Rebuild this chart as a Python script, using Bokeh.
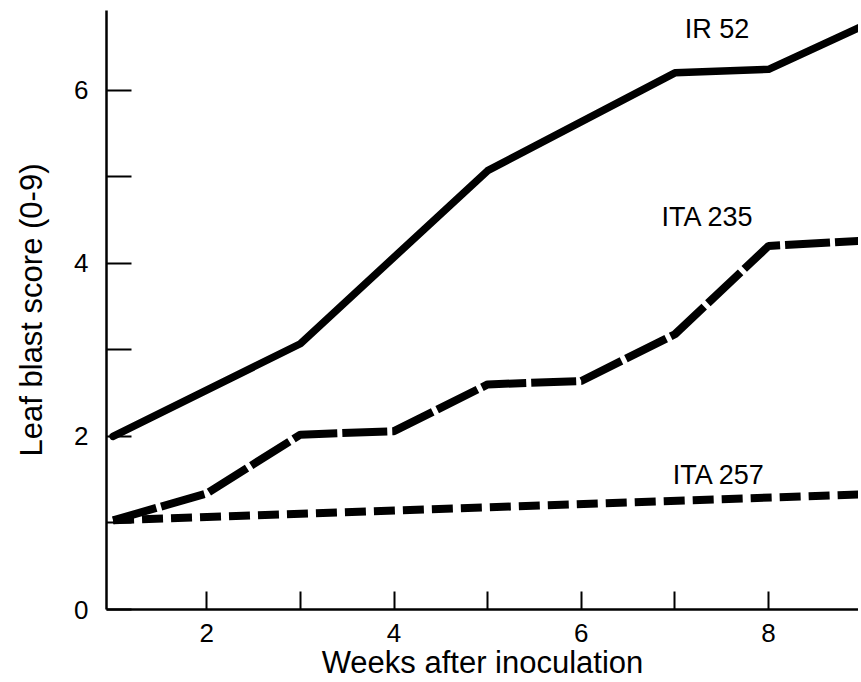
from bokeh.plotting import figure
from bokeh.models import FixedTicker, Label
from bokeh.embed import file_html
from bokeh.resources import INLINE

weeks_ir52 = [1, 3, 5, 7, 8, 9]
score_ir52 = [2.0, 3.07, 5.07, 6.2, 6.24, 6.74]

weeks_ita235 = [1, 2, 3, 4, 5, 6, 7, 8, 9]
score_ita235 = [1.03, 1.34, 2.02, 2.06, 2.6, 2.64, 3.18, 4.2, 4.26]

weeks_ita257 = [1, 9]
score_ita257 = [1.03, 1.33]

series_labels = ["IR 52", "ITA 235", "ITA 257"]
label_x = [7.45, 7.35, 7.47]
label_y = [6.71, 4.54, 1.55]

x_ticks = [2, 4, 6, 8]
x_minor = [3, 5, 7]
y_ticks = [0, 2, 4, 6]
y_minor = [1, 3, 5]

FONT = "Liberation Sans"

p = figure(width=858, height=682, x_range=(0.93, 8.96), y_range=(0, 6.92),
           output_backend="svg", toolbar_location=None,
           min_border_left=106, min_border_right=0, min_border_top=10, min_border_bottom=0)
p.outline_line_color = None
p.grid.visible = False
p.background_fill_color = "white"
p.border_fill_color = "white"

for ax, ticks, minor in ((p.xaxis[0], x_ticks, x_minor), (p.yaxis[0], y_ticks, y_minor)):
    ax.ticker = FixedTicker(ticks=ticks, minor_ticks=minor)
    ax.axis_line_width = 2.5
    ax.axis_line_color = "black"
    ax.major_tick_line_width = 2
    ax.minor_tick_line_width = 2
    ax.major_tick_line_color = "black"
    ax.minor_tick_line_color = "black"
    ax.major_tick_out = 0
    ax.minor_tick_out = 0
    ax.major_label_text_font = FONT
    ax.major_label_text_font_size = "26px"
    ax.major_label_text_color = "black"
    ax.axis_label_text_font = FONT
    ax.axis_label_text_font_size = "31px"
    ax.axis_label_text_font_style = "normal"
    ax.axis_label_text_color = "black"

p.xaxis[0].major_tick_in = 18
p.xaxis[0].minor_tick_in = 18
p.yaxis[0].major_tick_in = 25
p.yaxis[0].minor_tick_in = 25
p.xaxis[0].axis_label = "Weeks after inoculation"
p.yaxis[0].axis_label = "Leaf blast score (0-9)"
p.xaxis[0].major_label_standoff = 14
p.yaxis[0].major_label_standoff = 18
p.xaxis[0].axis_label_standoff = 0
p.yaxis[0].axis_label_standoff = 22

p.line(weeks_ir52, score_ir52, line_width=7.5, line_color="black", line_join="round", line_cap="round")
p.line(weeks_ita235, score_ita235, line_width=8, line_color="black", line_dash="45 5")
p.line(weeks_ita257, score_ita257, line_width=8, line_color="black", line_dash="21 8")

for t, x, y in zip(series_labels, label_x, label_y):
    p.add_layout(Label(x=x, y=y, text=t, text_font=FONT, text_font_size="27px",
                       text_align="center", text_baseline="middle", text_color="black"))

open("out.html", "w").write(file_html(p, INLINE))
